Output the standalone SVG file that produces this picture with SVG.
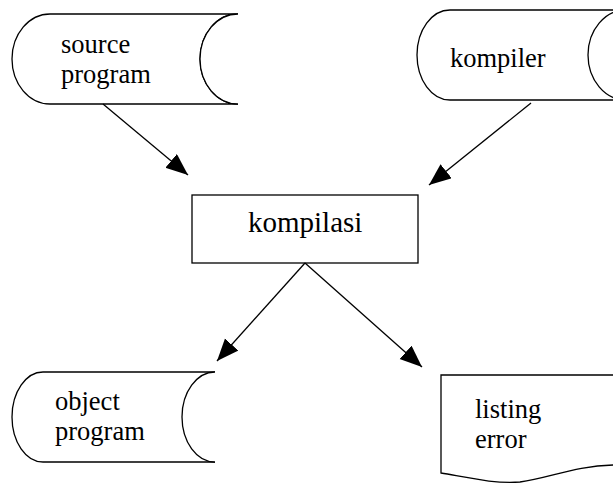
<svg xmlns="http://www.w3.org/2000/svg" width="613" height="484" viewBox="0 0 613 484">
<style>
.s{fill:#fff;stroke:#000;stroke-width:1.3}
.c{stroke:#000;stroke-width:1.3;fill:none;marker-end:url(#ah)}
</style>
<defs>
<marker id="ah" markerUnits="userSpaceOnUse" markerWidth="24" markerHeight="20" refX="22" refY="9" orient="auto">
<path d="M0,0 L22,9 L0,18 Z" fill="#000"/>
</marker>
</defs>
<rect width="613" height="484" fill="#fff"/>
<g id="source-program">
<path class="s" d="M238,14 H50 A38,45 0 0 0 50,104 H238 A38,45 0 0 1 238,14 Z"/>
<path class="s" d="M238,14 A38,45 0 0 0 238,104"/>
<text x="61" y="53" font-family="Liberation Serif" font-size="26.5">source</text>
<text x="61" y="83" font-family="Liberation Serif" font-size="26.5">program</text>
</g>
<g id="kompiler">
<path class="s" d="M626,10 H450 A33,45 0 0 0 450,100 H626"/>
<path class="s" d="M626,10 A38,45 0 0 0 626,100"/>
<text x="450" y="67" font-family="Liberation Serif" font-size="26.5">kompiler</text>
</g>
<g id="kompilasi">
<rect class="s" x="192" y="195" width="226" height="68"/>
<text x="248" y="232" font-family="Liberation Serif" font-size="29">kompilasi</text>
</g>
<g id="object-program">
<path class="s" d="M215,372 H43 A31,45 0 0 0 43,462 H215"/>
<path class="s" d="M215,372 A33,45 0 0 0 215,462"/>
<text x="55" y="410" font-family="Liberation Serif" font-size="26.5">object</text>
<text x="55" y="440" font-family="Liberation Serif" font-size="26.5">program</text>
</g>
<g id="listing-error">
<path class="s" d="M630,375 H441 V473 C470,478 495,484 520,482 C550,478 575,466 613,465 L630,465"/>
<text x="475" y="418" font-family="Liberation Serif" font-size="26.5">listing</text>
<text x="475" y="448" font-family="Liberation Serif" font-size="26.5">error</text>
</g>
<g id="connectors">
<line class="c" x1="103" y1="104" x2="188" y2="175"/>
<line class="c" x1="531" y1="103" x2="429" y2="185"/>
<line class="c" x1="305" y1="263" x2="217" y2="361"/>
<line class="c" x1="305" y1="263" x2="422" y2="367"/>
</g>
</svg>
